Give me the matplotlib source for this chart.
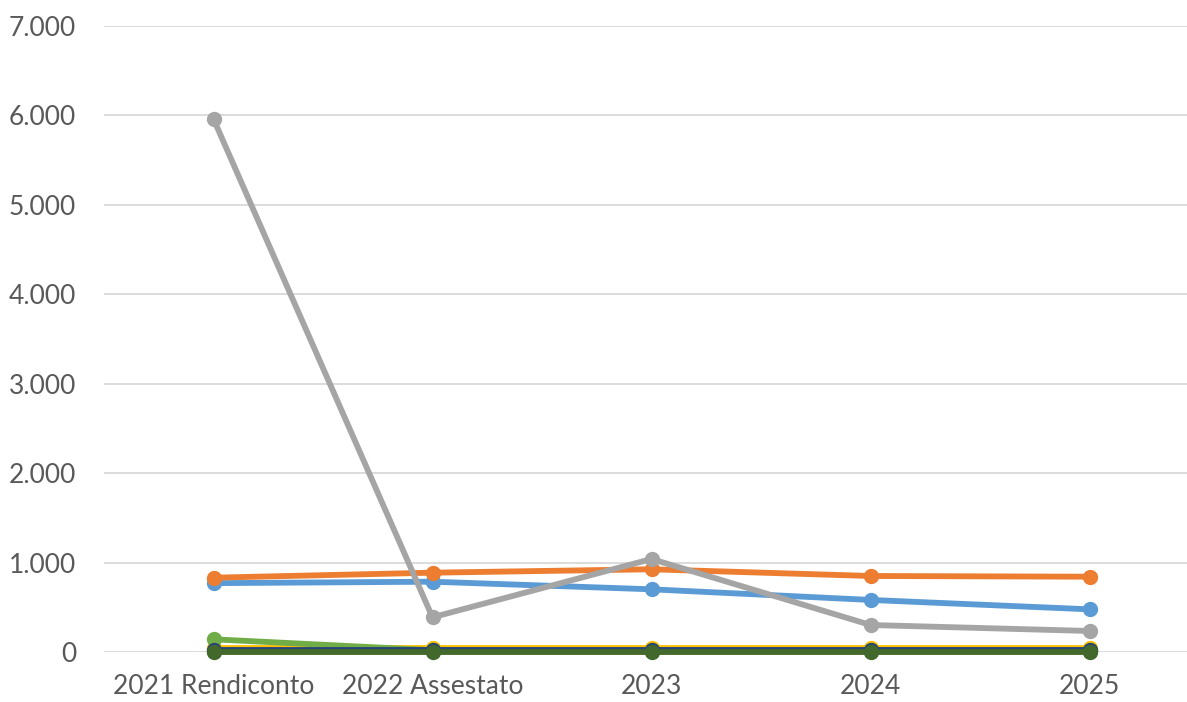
import matplotlib.pyplot as plt
from matplotlib.ticker import FuncFormatter

categories = ['2021 Rendiconto', '2022 Assestato', '2023', '2024', '2025']

# values (the low series are estimates)
serie_blu = [770, 786, 701, 582, 477]
serie_arancio = [831, 887, 925, 850, 842]
serie_grigio = [5960, 388, 1040, 302, 235]
serie_giallo = [45, 45, 45, 45, 45]
serie_blu_scuro = [10, 10, 10, 10, 10]
serie_verde = [142, 20, 20, 20, 20]
serie_blu_notte = [25, 25, 25, 25, 25]
serie_verde_scuro = [5, 5, 5, 5, 5]

series = [
    (serie_blu, '#5B9BD5'),
    (serie_arancio, '#ED7D31'),
    (serie_grigio, '#A5A5A5'),
    (serie_giallo, '#FFC000'),
    (serie_blu_scuro, '#4472C4'),
    (serie_verde, '#70AD47'),
    (serie_blu_notte, '#264478'),
    (serie_verde_scuro, '#43682B'),
]

plt.rcParams['font.family'] = ['Lato', 'DejaVu Sans']

fig = plt.figure(figsize=(11.87, 7.02), dpi=100)
# the plot area runs a little past the right edge, as in the original
ax = fig.add_axes([104 / 1187, 50 / 702, 1095 / 1187, 626 / 702])

x = list(range(len(categories)))
for values, color in series:
    ax.plot(x, values, color=color, linewidth=4.2, marker='o', markersize=10,
            solid_capstyle='round', zorder=3, clip_on=False)

ax.set_xlim(-0.5, len(categories) - 0.5)
ax.set_ylim(0, 7000)
ax.set_yticks(range(0, 7001, 1000))
ax.yaxis.set_major_formatter(FuncFormatter(lambda v, p: f'{int(v):,}'.replace(',', '.')))
ax.set_xticks(x)
ax.set_xticklabels(categories)

ax.grid(axis='y', color='#D9D9D9', linewidth=1.3, zorder=0)
for s in ax.spines.values():
    s.set_visible(False)
ax.tick_params(length=0, labelsize=19, colors='#595959')
ax.tick_params(axis='x', pad=16)
ax.tick_params(axis='y', pad=20)
ax.set_axisbelow(True)

fig.savefig('out.png', dpi=100)
